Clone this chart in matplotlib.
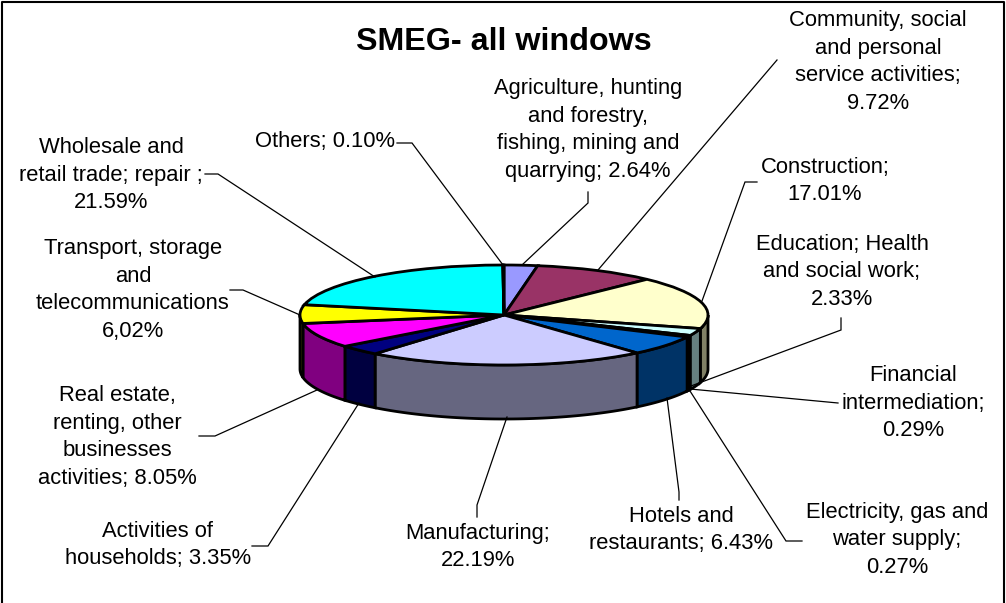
import numpy as np
import matplotlib
matplotlib.use('Agg')
import matplotlib.pyplot as plt
from matplotlib.colors import to_rgb

plt.rcParams['font.family'] = ['Liberation Sans', 'DejaVu Sans']

# slices, clockwise from 12 o'clock
labels = ['Agriculture, hunting\nand forestry,\nfishing, mining and\nquarrying; 2.64%',
          'Community, social\nand personal\nservice activities;\n9.72%',
          'Construction;\n17.01%',
          'Education; Health\nand social work;\n2.33%',
          'Financial\nintermediation;\n0.29%',
          'Electricity, gas and\nwater supply;\n0.27%',
          'Hotels and\nrestaurants; 6.43%',
          'Manufacturing;\n22.19%',
          'Activities of\nhouseholds; 3.35%',
          'Real estate,\nrenting, other\nbusinesses\nactivities; 8.05%',
          'Transport, storage\nand\ntelecommunications\n6,02%',
          'Wholesale and\nretail trade; repair ;\n21.59%',
          'Others; 0.10%']
values = [2.64, 9.72, 17.01, 2.33, 0.29, 0.27, 6.43, 22.19, 3.35, 8.05, 6.02, 21.59, 0.10]
colors = ['#9999FF', '#993366', '#FFFFCC', '#CCFFFF', '#660066', '#FF8080', '#0066CC',
          '#CCCCFF', '#000080', '#FF00FF', '#FFFF00', '#00FFFF', '#800080']

# layout, in image pixels
W, H = 1006, 603
cx, cy, rx, ry = 504, 315, 204, 50
depth = 54 / ry
label_pos = [(588, 130), (878, 62), (825, 181), (842, 272), (913, 403), (897, 540), (681, 530),
             (478, 547), (158, 545), (117, 437), (133, 290), (111, 175), (325, 141)]
leaders = [[(588, 192), (588, 203), (522, 265)],
           [(777, 60), (598, 270)],
           [(757, 182), (745, 182), (702, 301)],
           [(841, 318), (841, 330), (691, 386)],
           [(838, 403), (690, 389)],
           [(802, 541), (786, 541), (690, 391)],
           [(679, 500), (679, 492), (667, 398)],
           [(477, 517), (477, 505), (507, 417)],
           [(252, 546), (268, 546), (359, 403)],
           [(199, 436), (215, 436), (317, 390)],
           [(230, 290), (243, 290), (300, 315)],
           [(205, 174), (218, 174), (375, 277)],
           [(397, 143), (412, 143), (503, 265)]]

fig = plt.figure(figsize=(W / 100, H / 100), dpi=100)

# pie axes: one data unit is one radius, squashed by the axes limits
ax = fig.add_axes([0, 0, 1, 1])
ax.pie(values, colors=colors, startangle=90, counterclock=False, radius=1,
       wedgeprops={'edgecolor': 'black', 'linewidth': 2, 'zorder': 3})
ax.set_aspect('auto')
ax.set_xlim(-cx / rx, (W - cx) / rx)
ax.set_ylim((cy - H) / ry, cy / ry)
ax.axis('off')

# rim of the pie, only the front half shows
edges = np.cumsum([0] + values) / sum(values) * 360
for a, b, c in zip(edges[:-1], edges[1:], colors):
    lo, hi = max(a, 90), min(b, 270)
    if lo >= hi:
        continue
    t = np.radians(np.linspace(lo, hi, 60))
    x = np.sin(t)
    y = np.cos(t)
    dark = tuple(v * 0.5 for v in to_rgb(c))
    ax.fill(np.r_[x, x[::-1]], np.r_[y, y[::-1] - depth], facecolor=dark,
            edgecolor='black', linewidth=2, zorder=2)

# overlay in pixel coordinates for text and leader lines
over = fig.add_axes([0, 0, 1, 1])
over.set_xlim(0, W)
over.set_ylim(H, 0)
over.axis('off')

for pts in leaders:
    over.plot(*zip(*pts), color='black', linewidth=0.9, solid_joinstyle='miter')
for text, (x, y) in zip(labels, label_pos):
    over.text(x, y, text, ha='center', va='center', fontsize=15.8, linespacing=1.424, color='black')
over.text(504, 42, 'SMEG- all windows', ha='center', va='center', fontsize=23.2, fontweight='bold')

# chart frame, bottom edge runs off the image
over.plot([2, 2, 1004, 1004], [H, 1.5, 1.5, H], color='black', linewidth=1.5)

fig.savefig('out.png', dpi=100)
